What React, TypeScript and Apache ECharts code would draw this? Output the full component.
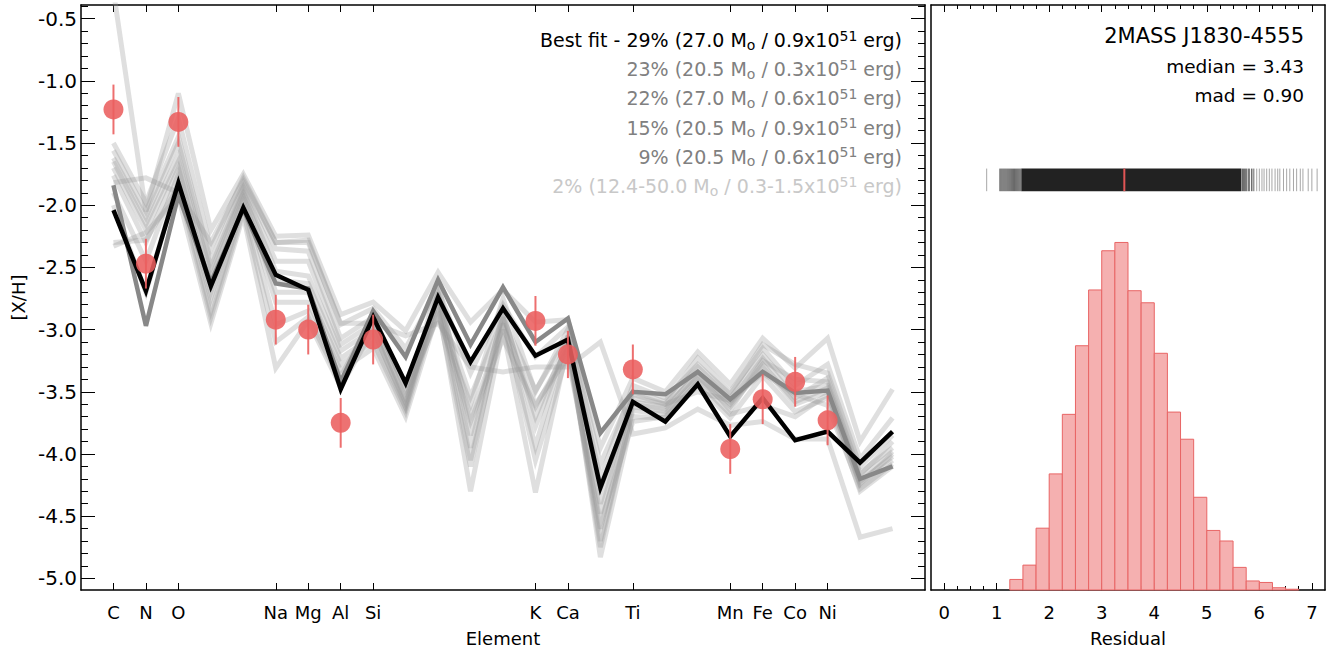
import React, { useEffect, useRef } from "react";
import * as echarts from "echarts";

// ---------- data ----------
const ELEMENTS = ["C","N","O","F","Ne","Na","Mg","Al","Si","P","S","Cl","Ar","K","Ca","Sc","Ti","V","Cr","Mn","Fe","Co","Ni","Cu","Zn"];
const ATOMIC_NUMBERS = [6,7,8,9,10,11,12,13,14,15,16,17,18,19,20,21,22,23,24,25,26,27,28,29,30];
const LABELED_Z = [6,7,8,11,12,13,14,19,20,22,25,26,27,28];

const BEST_FIT = [-2.04,-2.69,-1.82,-2.65,-2.02,-2.56,-2.68,-3.48,-2.9,-3.43,-2.74,-3.26,-2.83,-3.21,-3.08,-4.27,-3.58,-3.74,-3.44,-3.86,-3.55,-3.89,-3.82,-4.07,-3.82];
const SECOND_FIT = [-1.84,-2.97,-1.92,-2.62,-2.03,-2.63,-2.67,-3.42,-2.85,-3.22,-2.6,-3.12,-2.66,-3.1,-2.91,-3.83,-3.5,-3.52,-3.34,-3.56,-3.34,-3.51,-3.49,-4.2,-4.1];

const FIT_A = [-0.28,-2.05,-1.1,-2.2,-1.75,-2.25,-2.24,-2.88,-2.78,-3.01,-2.54,-2.94,-2.68,-2.94,-2.92,-3.95,-3.39,-3.5,-3.18,-3.44,-3.07,-3.31,-3.07,-3.9,-3.48];
const FIT_B = [-1.5,-1.98,-1.3,-2.35,-1.78,-2.3,-2.28,-2.96,-2.83,-3.15,-2.67,-3.35,-2.8,-3.22,-2.98,-4.08,-3.5,-3.58,-3.23,-3.5,-3.15,-3.45,-3.28,-4.04,-3.71];
const FIT_C = [-1.56,-2.05,-1.45,-2.45,-1.83,-2.35,-2.37,-3.07,-2.9,-3.47,-2.78,-3.54,-2.91,-3.49,-3.06,-4.27,-3.6,-3.64,-3.34,-3.58,-3.23,-3.55,-3.39,-4.17,-3.9];
const FIT_D = [-1.62,-2.1,-1.5,-2.5,-1.86,-2.45,-2.45,-3.12,-2.95,-3.55,-2.87,-3.74,-3.07,-3.62,-3.15,-4.48,-3.55,-3.6,-3.3,-3.55,-3.2,-3.5,-3.45,-4.2,-3.98];
const FIT_E = [-1.65,-2.15,-1.6,-2.55,-1.88,-2.53,-2.57,-3.17,-3.0,-3.6,-2.7,-3.95,-2.85,-3.78,-3.1,-4.7,-3.65,-3.68,-3.4,-3.62,-3.3,-3.6,-3.5,-4.25,-4.05];
const FIT_F = [-1.7,-2.2,-1.65,-2.6,-1.9,-2.6,-2.63,-3.23,-3.05,-3.63,-2.75,-4.05,-2.95,-3.94,-3.05,-4.83,-3.7,-3.71,-3.45,-3.71,-3.37,-3.66,-3.55,-4.3,-4.1];
const FIT_G = [-1.76,-2.3,-1.7,-2.7,-1.93,-2.7,-2.7,-3.28,-3.1,-3.66,-2.8,-4.3,-3.0,-4.31,-3.12,-4.75,-3.62,-3.66,-3.38,-3.6,-3.28,-3.58,-3.47,-4.22,-4.02];
const FIT_H = [-1.82,-1.78,-1.9,-2.3,-1.8,-2.3,-2.3,-2.95,-2.95,-3.05,-2.95,-3.3,-3.34,-3.3,-3.3,-3.1,-3.84,-3.79,-3.64,-3.77,-3.74,-3.88,-3.88,-4.67,-4.6];
const FIT_I = [-1.9,-2.45,-1.75,-2.75,-1.96,-2.78,-2.78,-3.33,-3.15,-3.7,-2.85,-4.1,-2.9,-4.05,-3.18,-4.6,-3.58,-3.62,-3.36,-3.65,-3.25,-3.4,-3.42,-4.15,-3.95];
const FIT_J = [-2.0,-2.7,-1.8,-2.85,-2.0,-2.96,-2.85,-3.38,-2.88,-3.5,-2.9,-3.6,-2.75,-3.5,-3.0,-4.2,-3.45,-3.55,-3.28,-3.52,-3.12,-3.28,-3.35,-4.1,-3.85];
const FIT_K = [-2.3,-2.28,-1.85,-2.9,-2.05,-3.1,-2.9,-3.42,-2.93,-3.58,-2.62,-3.85,-2.88,-3.7,-3.08,-4.4,-3.52,-3.6,-3.5,-3.57,-3.35,-3.52,-3.61,-4.28,-4.08];
const FIT_L = [-2.33,-2.22,-1.93,-2.95,-2.08,-3.31,-2.93,-3.46,-3.0,-3.62,-2.72,-3.7,-2.98,-3.6,-3.22,-4.55,-3.74,-3.7,-3.42,-3.68,-3.61,-3.7,-3.52,-4.24,-4.0];
const OTHER_FITS = [FIT_A, FIT_B, FIT_C, FIT_D, FIT_E, FIT_F, FIT_G, FIT_H, FIT_I, FIT_J, FIT_K, FIT_L];

const OBS_Z = [6,7,8,11,12,13,14,19,20,22,25,26,27,28];
const OBS_VALUES = [-1.23,-2.47,-1.33,-2.92,-3.0,-3.75,-3.08,-2.93,-3.2,-3.32,-3.96,-3.56,-3.42,-3.73];
const OBS_ERRORS = [0.2,0.2,0.2,0.2,0.2,0.2,0.2,0.2,0.19,0.2,0.2,0.2,0.2,0.2];

const Y_TICKS = [-5.0,-4.5,-4.0,-3.5,-3.0,-2.5,-2.0,-1.5,-1.0,-0.5];

const LEGEND_LINES = [
  "Best fit - 29% (27.0 M{sub|o} / 0.9x10{sup|51} erg)",
  "23% (20.5 M{sub|o} / 0.3x10{sup|51} erg)",
  "22% (27.0 M{sub|o} / 0.6x10{sup|51} erg)",
  "15% (20.5 M{sub|o} / 0.9x10{sup|51} erg)",
  "9% (20.5 M{sub|o} / 0.6x10{sup|51} erg)",
  "2% (12.4-50.0 M{sub|o} / 0.3-1.5x10{sup|51} erg)",
];
const LEGEND_COLORS = ["#000000","#808080","#808080","#808080","#808080","#c8c8c8"];

const BIN_STARTS = [1.25,1.5,1.75,2.0,2.25,2.5,2.75,3.0,3.25,3.5,3.75,4.0,4.25,4.5,4.75,5.0,5.25,5.5,5.75,6.0,6.25,6.5];
const BIN_WIDTH = 0.25;
const BIN_DENSITY = [0.014,0.033,0.082,0.154,0.233,0.324,0.398,0.450,0.461,0.397,0.381,0.314,0.236,0.200,0.123,0.079,0.065,0.030,0.012,0.010,0.003,0.001];
const RESIDUAL_TICKS = [0,1,2,3,4,5,6,7];

const RUG_TAIL_VALUES = [0.81,1.06,1.08,1.1,1.12,1.14,1.16,1.18,1.2,1.22,1.24,1.26,1.28,1.3,1.32,1.34,1.36,1.38,1.4,1.42,1.44,1.46,
  5.68,5.70,5.72,5.74,5.76,5.79,5.81,5.85,5.88,5.90,5.95,6.00,6.05,6.09,6.14,6.19,6.24,6.30,6.35,6.39,6.46,6.52,6.58,6.65,6.71,6.78,6.83,6.93,7.00,7.10];
const RUG_CORE = [1.47, 5.66];

const STAR_NAME = "2MASS J1830-4555";
const MEDIAN = 3.43;
const MAD = 0.9;

// ---------- styling ----------
const FONT = "DejaVu Sans";
const RED = "#eb5f5f";
const HIST_FILL = "#f5b0b0";
const HIST_EDGE = "#e86565";
const RUG_Y = [0.529, 0.559];
const Y_MIN = -5.094;
const Y_MAX = -0.39;
const HIST_YMAX = 0.776;

export default function App() {
  const ref = useRef<HTMLDivElement>(null);

  useEffect(() => {
    if (!ref.current) return;
    const chart = echarts.init(ref.current, undefined, { renderer: "svg" });

    const zToSymbol = (v: number) => {
      const i = ATOMIC_NUMBERS.indexOf(Math.round(v));
      return i >= 0 ? ELEMENTS[i] : "";
    };
    const toPairs = (arr: number[]) => ATOMIC_NUMBERS.map((z, i) => [z, arr[i]]);

    const axisLine = { show: true, onZero: false, lineStyle: { color: "#000", width: 1.5 } };

    const series: any[] = [];
    OTHER_FITS.forEach((arr) => {
      series.push({
        type: "line", xAxisIndex: 0, yAxisIndex: 0, data: toPairs(arr), z: 2,
        showSymbol: false, symbol: "none", silent: true, clip: true,
        lineStyle: { color: "rgba(150,150,150,0.3)", width: 5, join: "miter" },
      });
    });
    series.push({
      type: "line", xAxisIndex: 0, yAxisIndex: 0, data: toPairs(SECOND_FIT), z: 3,
      showSymbol: false, symbol: "none", silent: true,
      lineStyle: { color: "#888888", width: 4.5, join: "miter" },
    });
    series.push({
      type: "line", xAxisIndex: 0, yAxisIndex: 0, data: toPairs(BEST_FIT), z: 4,
      showSymbol: false, symbol: "none", silent: true,
      lineStyle: { color: "#000000", width: 4.5, join: "miter" },
    });
    series.push({
      type: "custom", xAxisIndex: 0, yAxisIndex: 0, silent: true, z: 8,
      data: OBS_Z.map((z, i) => [z, OBS_VALUES[i], OBS_ERRORS[i]]),
      encode: { x: 0, y: 1 },
      renderItem: (_p: any, api: any) => {
        const x = api.value(0), y = api.value(1), e = api.value(2);
        const a = api.coord([x, y - e]);
        const b = api.coord([x, y + e]);
        return { type: "line", shape: { x1: a[0], y1: a[1], x2: b[0], y2: b[1] }, style: { stroke: RED, lineWidth: 2, opacity: 0.9 } };
      },
    });
    series.push({
      type: "scatter", xAxisIndex: 0, yAxisIndex: 0, silent: true, z: 10,
      data: OBS_Z.map((z, i) => [z, OBS_VALUES[i]]),
      symbolSize: 20, itemStyle: { color: RED, opacity: 0.88 },
    });

    // histogram
    series.push({
      type: "custom", xAxisIndex: 2, yAxisIndex: 2, silent: true,
      data: BIN_STARTS.map((s, i) => [s, s + BIN_WIDTH, BIN_DENSITY[i]]),
      encode: { x: [0, 1], y: 2 },
      renderItem: (_p: any, api: any) => {
        const p0 = api.coord([api.value(0), api.value(2)]);
        const p1 = api.coord([api.value(1), 0]);
        return {
          type: "rect",
          shape: { x: p0[0], y: p0[1], width: p1[0] - p0[0], height: p1[1] - p0[1] },
          style: { fill: HIST_FILL, stroke: HIST_EDGE, lineWidth: 1 },
        };
      },
    });
    // rug tails
    series.push({
      type: "custom", xAxisIndex: 2, yAxisIndex: 2, silent: true,
      data: RUG_TAIL_VALUES.map((v) => [v]),
      encode: { x: 0 },
      renderItem: (_p: any, api: any) => {
        const v = api.value(0);
        const a = api.coord([v, RUG_Y[1]]);
        const b = api.coord([v, RUG_Y[0]]);
        const near = v > 1.0 && v < 5.9;
        return { type: "line", shape: { x1: a[0], y1: a[1], x2: b[0], y2: b[1] }, style: { stroke: near ? "rgba(0,0,0,0.6)" : "rgba(0,0,0,0.35)", lineWidth: 1 } };
      },
    });
    // rug core
    series.push({
      type: "custom", xAxisIndex: 2, yAxisIndex: 2, silent: true,
      data: [[RUG_CORE[0], RUG_CORE[1]]],
      encode: { x: [0, 1] },
      renderItem: (_p: any, api: any) => {
        const a = api.coord([api.value(0), RUG_Y[1]]);
        const b = api.coord([api.value(1), RUG_Y[0]]);
        return { type: "rect", shape: { x: a[0], y: a[1], width: b[0] - a[0], height: b[1] - a[1] }, style: { fill: "#222222" } };
      },
    });
    // median marker
    series.push({
      type: "custom", xAxisIndex: 2, yAxisIndex: 2, silent: true, z: 5,
      data: [[MEDIAN]],
      encode: { x: 0 },
      renderItem: (_p: any, api: any) => {
        const a = api.coord([api.value(0), RUG_Y[1]]);
        const b = api.coord([api.value(0), RUG_Y[0]]);
        return { type: "line", shape: { x1: a[0], y1: a[1], x2: b[0], y2: b[1] }, style: { stroke: "#e05555", lineWidth: 2 } };
      },
    });

    const legendY = [40, 69.2, 98.4, 127.6, 156.8, 186];
    const graphics: any[] = LEGEND_LINES.map((t, i) => ({
      type: "text", x: 902, y: legendY[i], silent: true,
      style: {
        text: t, fill: LEGEND_COLORS[i], fontSize: 19, fontFamily: FONT, lineHeight: 23,
        align: "right", verticalAlign: "middle",
        rich: {
          sub: { fontSize: 14, lineHeight: 14, verticalAlign: "bottom", fontFamily: FONT, fill: LEGEND_COLORS[i] },
          sup: { fontSize: 14, lineHeight: 14, verticalAlign: "top", fontFamily: FONT, fill: LEGEND_COLORS[i] },
        },
      },
    }));
    graphics.push({ type: "text", x: 1304, y: 36, silent: true, style: { text: STAR_NAME, fill: "#000", fontSize: 21, fontFamily: FONT, align: "right", verticalAlign: "middle" } });
    graphics.push({ type: "text", x: 1304, y: 66, silent: true, style: { text: `median = ${MEDIAN.toFixed(2)}`, fill: "#000", fontSize: 18.5, fontFamily: FONT, align: "right", verticalAlign: "middle" } });
    graphics.push({ type: "text", x: 1304, y: 95, silent: true, style: { text: `mad = ${MAD.toFixed(2)}`, fill: "#000", fontSize: 18.5, fontFamily: FONT, align: "right", verticalAlign: "middle" } });

    const option: any = {
      animation: false,
      backgroundColor: "#ffffff",
      textStyle: { fontFamily: FONT, color: "#000" },
      grid: [
        { left: 81, top: 5, width: 844, height: 588, show: false },
        { left: 931, top: 5, width: 394, height: 588, show: false },
      ],
      xAxis: [
        {
          gridIndex: 0, type: "value", position: "bottom", min: 5, max: 31,
          axisLine,
          axisTick: { show: true, inside: true, length: 7, customValues: LABELED_Z, lineStyle: { color: "#000", width: 1 } },
          axisLabel: { show: true, customValues: LABELED_Z, formatter: zToSymbol, fontSize: 18, color: "#000", margin: 13, fontFamily: FONT },
          splitLine: { show: false },
          name: "Element", nameLocation: "middle", nameGap: 39,
          nameTextStyle: { fontSize: 18, color: "#000", fontFamily: FONT },
        },
        {
          gridIndex: 0, type: "value", position: "top", min: 5, max: 31,
          axisLine,
          axisTick: { show: true, inside: true, length: 7, customValues: LABELED_Z, lineStyle: { color: "#000", width: 1 } },
          axisLabel: { show: false },
          splitLine: { show: false },
        },
        {
          gridIndex: 1, type: "value", position: "bottom", min: -0.25, max: 7.25, splitNumber: 7,
          axisLine,
          axisTick: { show: true, inside: true, length: 7, customValues: RESIDUAL_TICKS, lineStyle: { color: "#000", width: 1 } },
          minorTick: { show: true, splitNumber: 4, length: 4, lineStyle: { color: "#000", width: 1 } },
          axisLabel: { show: true, customValues: RESIDUAL_TICKS, fontSize: 18, color: "#000", margin: 13, fontFamily: FONT },
          splitLine: { show: false },
          name: "Residual", nameLocation: "middle", nameGap: 39,
          nameTextStyle: { fontSize: 18, color: "#000", fontFamily: FONT },
        },
        {
          gridIndex: 1, type: "value", position: "top", min: -0.25, max: 7.25, splitNumber: 7,
          axisLine,
          axisTick: { show: true, inside: true, length: 7, customValues: RESIDUAL_TICKS, lineStyle: { color: "#000", width: 1 } },
          minorTick: { show: true, splitNumber: 4, length: 4, lineStyle: { color: "#000", width: 1 } },
          axisLabel: { show: false },
          splitLine: { show: false },
        },
      ],
      yAxis: [
        {
          gridIndex: 0, type: "value", position: "left", min: Y_MIN, max: Y_MAX, splitNumber: 9,
          axisLine,
          axisTick: { show: true, inside: true, length: 14, customValues: Y_TICKS, lineStyle: { color: "#000", width: 1 } },
          minorTick: { show: true, splitNumber: 5, length: 7, lineStyle: { color: "#000", width: 1 } },
          axisLabel: { show: true, customValues: Y_TICKS, formatter: (v: number) => v.toFixed(1), fontSize: 20, color: "#000", margin: 4, fontFamily: FONT },
          splitLine: { show: false },
          name: "[X/H]", nameLocation: "middle", nameGap: 54, nameRotate: 90,
          nameTextStyle: { fontSize: 18, color: "#000", fontFamily: FONT },
        },
        {
          gridIndex: 0, type: "value", position: "right", min: Y_MIN, max: Y_MAX, splitNumber: 9,
          axisLine,
          axisTick: { show: true, inside: true, length: 14, customValues: Y_TICKS, lineStyle: { color: "#000", width: 1 } },
          minorTick: { show: true, splitNumber: 5, length: 7, lineStyle: { color: "#000", width: 1 } },
          axisLabel: { show: false },
          splitLine: { show: false },
        },
        {
          gridIndex: 1, type: "value", position: "left", min: 0, max: HIST_YMAX,
          axisLine, axisTick: { show: false }, axisLabel: { show: false }, splitLine: { show: false },
        },
        {
          gridIndex: 1, type: "value", position: "right", min: 0, max: HIST_YMAX,
          axisLine, axisTick: { show: false }, axisLabel: { show: false }, splitLine: { show: false },
        },
      ],
      series,
      graphic: graphics,
    };

    chart.setOption(option);
    return () => chart.dispose();
  }, []);

  return <div ref={ref} style={{ position: "absolute", left: 0, top: 0, width: 1332, height: 652 }} />;
}
